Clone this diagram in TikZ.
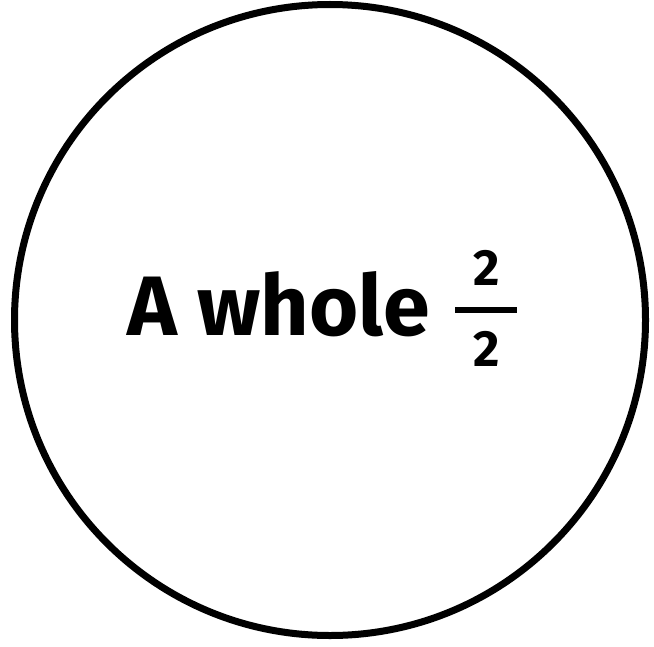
\documentclass[tikz,border=0pt]{standalone}
\usepackage{fontspec}
\setmainfont{Fira Sans}
\usetikzlibrary{positioning}
\tikzset{
  wholecircle/.style={circle, draw=black, line width=0.14cm, minimum size=12.62cm, inner sep=0pt},
  wholetext/.style={font=\fontsize{48}{54}\selectfont\bfseries, inner sep=0pt},
  fracdigit/.style={font=\fontsize{29}{34}\selectfont\bfseries, inner sep=0pt},
  fracbar/.style={line width=0.12cm},
}
\begin{document}
\begin{tikzpicture}
  \useasboundingbox (0,0) rectangle (13.08,12.92);
  \node[wholecircle] (circ) at (6.6,6.52) {};
  \node[wholetext, anchor=base] (whole) at (5.58,6.22) {A whole};
  % the fraction 2/2
  \node[fracdigit] (num) at (9.73,7.56) {2};
  \node[fracdigit] (den) at (9.73,5.94) {2};
  \coordinate (barl) at (9.10,6.72);
  \coordinate (barr) at (10.34,6.72);
  \draw[fracbar] (barl) -- (barr);
\end{tikzpicture}
\end{document}
